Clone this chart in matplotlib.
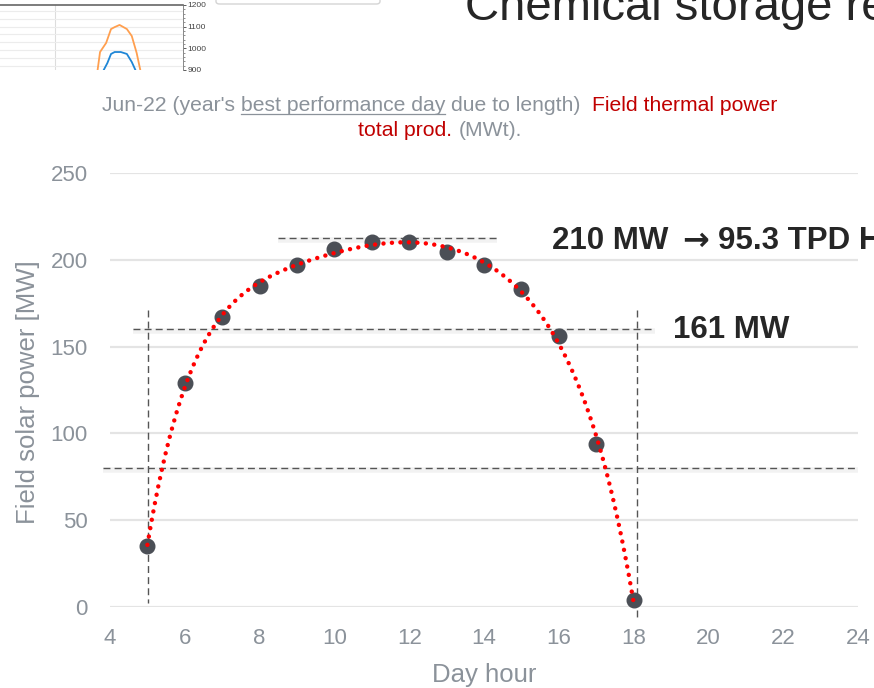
import numpy as np
import matplotlib
matplotlib.use('Agg')
import matplotlib.pyplot as plt
from matplotlib import font_manager
from matplotlib.patches import FancyBboxPatch

W, H = 874, 688

# main chart data
hours = [5, 6, 7, 8, 9, 10, 11, 12, 13, 14, 15, 16, 17, 18]
power = [35, 129, 167, 185, 197, 206, 210, 210, 204.5, 197, 183, 156, 94, 4]
x_ticks = [4, 6, 8, 10, 12, 14, 16, 18, 20, 22, 24]
y_ticks = [0, 50, 100, 150, 200, 250]

# guide lines drawn over the chart
peak_level = 212.5
cut_level = 160
low_level = 80
start_hour = 5.02
end_hour = 18.08

# cropped thumbnail of another chart at the top left
thumb_x_orange = [7.9, 8.0, 8.2, 8.7, 9.1, 9.4, 9.8, 10.4, 10.8, 11.2, 11.5, 11.6]
thumb_orange = [860, 900, 983, 1025, 1089, 1098, 1108, 1089, 1057, 979, 900, 860]
thumb_x_blue = [8.4, 8.5, 8.8, 9.1, 9.4, 9.9, 10.4, 10.8, 11.1, 11.2]
thumb_blue = [860, 900, 932, 974, 983, 983, 974, 937, 900, 860]
thumb_ticks = [900, 1000, 1100, 1200]

names = {f.name for f in font_manager.fontManager.ttflist}
SANS = 'Liberation Sans' if 'Liberation Sans' in names else 'DejaVu Sans'
FAM = [SANS, 'DejaVu Sans']

GRAY = '#8b929a'
RED = '#c00000'
DARK = '#262626'

def fx(px):
    return px / W

def fy(py):
    return 1 - py / H

fig = plt.figure(figsize=(W / 100, H / 100), dpi=100)
renderer = fig.canvas.get_renderer()

# ---- thumbnail ----
tax = fig.add_axes([fx(0), fy(70), fx(183), (70 - 5) / H])
tax.plot(thumb_x_orange, thumb_orange, color='#ff9f4f', lw=1.3)
tax.plot(thumb_x_blue, thumb_blue, color='#1f86d6', lw=1.3)
tax.set_xlim(0, 15)
tax.set_ylim(900, 1200)
tax.axvline(4.5, color='#dddddd', lw=0.8, zorder=0)
for v in np.arange(920, 1200, 36):
    tax.axhline(v, color='#ececec', lw=0.8, zorder=0)
tax.yaxis.tick_right()
tax.set_yticks(thumb_ticks)
tax.set_yticks(np.arange(900, 1201, 20), minor=True)
tax.tick_params(axis='y', labelsize=6, labelcolor='#444444', length=2, width=0.6, pad=1, colors='#444444')
tax.tick_params(axis='y', which='minor', length=1.5, width=0.5, colors='#666666')
tax.set_xticks([])
for s in ['left', 'bottom']:
    tax.spines[s].set_visible(False)
tax.spines['top'].set_color('#666666')
tax.spines['right'].set_color('#888888')
tax.spines['top'].set_linewidth(1.2)
tax.spines['right'].set_linewidth(0.7)
for lab in tax.get_yticklabels():
    lab.set_family(FAM)

box = FancyBboxPatch((fx(216), fy(4)), fx(380) - fx(216), 0.05,
                     boxstyle='round,pad=0,rounding_size=0.004',
                     transform=fig.transFigure, fill=False,
                     edgecolor='#d4d4d4', lw=1)
fig.patches.append(box)

# ---- slide title (cut at the top, as on the slide) ----
fig.text(fx(465), fy(20), 'Chemical storage requirements', fontsize=34,
         color=DARK, family=FAM, ha='left', va='baseline')

# ---- subtitle in pieces ----
def width(s, size, **kw):
    t = fig.text(0, 0, s + '|', fontsize=size, family=FAM, **kw)
    t2 = fig.text(0, 0, '|', fontsize=size, family=FAM, **kw)
    w = t.get_window_extent(renderer).width - t2.get_window_extent(renderer).width
    t.remove()
    t2.remove()
    return w

def subtitle_line(pieces, cx, base, size):
    full = ''.join(p[0] for p in pieces)
    x0 = cx - width(full, size) / 2
    prefix = ''
    for s, col, ul in pieces:
        lead = s[:len(s) - len(s.lstrip())]
        body = s.strip()
        start = x0 + width(prefix + lead, size)
        fig.text(fx(start), fy(base), body, fontsize=size, color=col,
                 family=FAM, ha='left', va='baseline')
        if ul:
            w = width(body, size)
            fig.add_artist(plt.Line2D([fx(start), fx(start + w)],
                                      [fy(base + 2.5), fy(base + 2.5)],
                                      color=col, lw=0.9))
        prefix += s

sub_size = 15.2
subtitle_line([("Jun-22 (year's ", GRAY, False),
               ("best performance day", GRAY, True),
               (" due to length)  ", GRAY, False),
               ("Field thermal power", RED, False)], 440, 111, sub_size)
subtitle_line([("total prod.", RED, False),
               (" (MWt).", GRAY, False)], 440, 136, sub_size)

# ---- main chart ----
ax = fig.add_axes([fx(110), fy(607), fx(858) - fx(110), (607 - 173) / H])
ax.set_xlim(4, 24)
ax.set_ylim(0, 250)
ax.set_xticks(x_ticks)
ax.set_yticks(y_ticks)
ax.grid(axis='y', color='#e4e4e4', lw=1.6)
ax.set_axisbelow(True)
for s in ax.spines.values():
    s.set_visible(False)
ax.tick_params(axis='x', length=0, pad=15, labelsize=16, labelcolor=GRAY)
ax.tick_params(axis='y', length=0, pad=16, labelsize=16, labelcolor=GRAY)
for lab in ax.get_xticklabels() + ax.get_yticklabels():
    lab.set_family(FAM)

ax.plot(hours, power, 'o', color='#4b4f56', ms=10.5, zorder=4, clip_on=False)

# polynomial trendline through the points
coef = np.polyfit(hours, power, 6)
xs = np.linspace(hours[0], hours[-1], 400)
ax.plot(xs, np.polyval(coef, xs), color='#ff0000', lw=3.2,
        linestyle=(0, (0.01, 1.9)), dash_capstyle='round', zorder=5, clip_on=False)

# dashed guides with a faint shadow
def guide(x, y):
    ax.plot(x, np.array(y) - 1.2, color='#000000', alpha=0.05, lw=4, zorder=2,
            clip_on=False, solid_capstyle='butt')
    ax.plot(x, y, color='#555555', lw=1, linestyle=(0, (5, 3)), zorder=3, clip_on=False)

guide([8.49, 14.35], [peak_level, peak_level])
guide([4.61, 18.57], [cut_level, cut_level])
guide([3.81, 24], [low_level, low_level])
ax.plot([start_hour, start_hour], [171, 2.5], color='#555555', lw=1,
        linestyle=(0, (5, 3)), zorder=3, clip_on=False)
ax.plot([end_hour, end_hour], [171, -7.5], color='#555555', lw=1,
        linestyle=(0, (5, 3)), zorder=3, clip_on=False)

fig.text(fx(28), fy(392), 'Field solar power [MW]', rotation=90, fontsize=18.5,
         color=GRAY, family=FAM, ha='center', va='center')
fig.text(fx(484), fy(675), 'Day hour', fontsize=18.5, color=GRAY, family=FAM,
         ha='center', va='center')

# bold annotations; the arrow uses DejaVu for a heavier glyph
fig.text(fx(552), fy(249), '210 MW', fontsize=22.5, fontweight='bold',
         color=DARK, family=FAM, ha='left', va='baseline')
fig.text(fx(696), fy(250), '\u2192', fontsize=23, fontweight='bold',
         color=DARK, family='DejaVu Sans', ha='center', va='baseline')
fig.text(fx(718), fy(249), '95.3 TPD H\u2082', fontsize=22.5, fontweight='bold',
         color=DARK, family=FAM, ha='left', va='baseline')
fig.text(fx(673), fy(338), '161 MW', fontsize=22.5, fontweight='bold',
         color=DARK, family=FAM, ha='left', va='baseline')

fig.savefig('out.png', dpi=100)
